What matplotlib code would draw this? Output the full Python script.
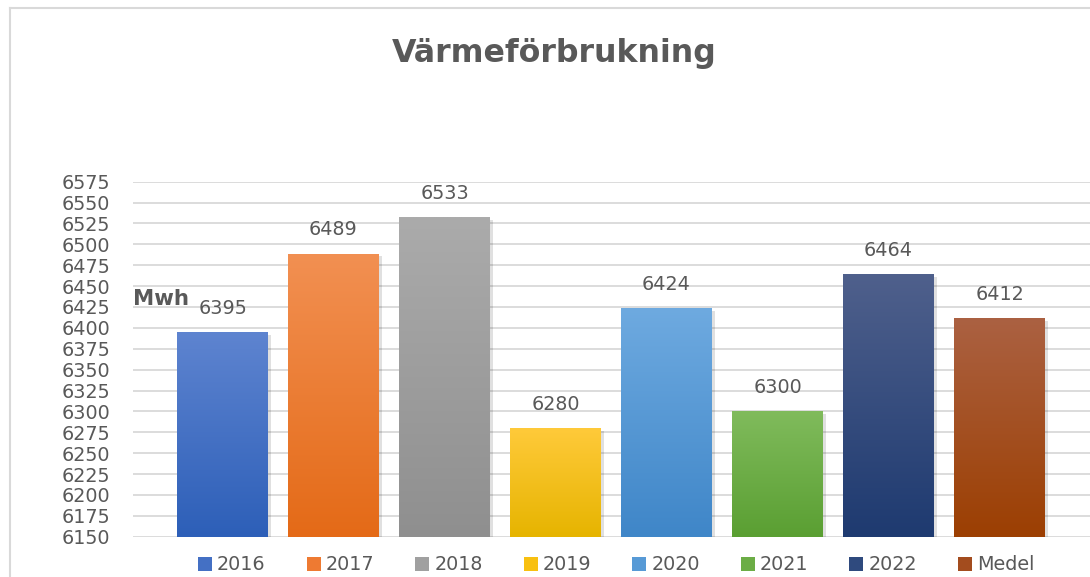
import matplotlib
matplotlib.use("Agg")
import matplotlib.pyplot as plt
import numpy as np
from matplotlib.colors import LinearSegmentedColormap
from matplotlib.patches import Rectangle
from matplotlib.lines import Line2D
import matplotlib.patheffects as pe

# ---- data ----
categories = ["2016", "2017", "2018", "2019", "2020", "2021", "2022", "Medel"]
values = [6395, 6489, 6533, 6280, 6424, 6300, 6464, 6412]
top_colors = ["#5e84d0", "#f29052", "#ababab", "#ffca3a", "#6eaae0", "#80bb5c", "#4f608c", "#ab6142"]
bottom_colors = ["#2d5fb8", "#e46a17", "#8f8f8f", "#e6b400", "#3f86c8", "#5a9f32", "#1e3a70", "#9c3f02"]
legend_colors = ["#4470c4", "#ee7a32", "#a0a0a0", "#f8c010", "#579ad6", "#6cad46", "#2f4a7e", "#a34c1e"]
yticks = list(range(6150, 6576, 25))
title = "Värmeförbrukning"
unit = "Mwh"

TXT = "#595959"
GRID = "#d9d9d9"
FS = 13.8

plt.rcParams['font.family'] = ['DejaVu Sans']

fig = plt.figure(figsize=(10.9, 5.77), dpi=100)
ax = fig.add_axes([133/1090, 1 - 536.7/577, 1 - 133/1090, (536.7 - 181.7)/577])

ymin, ymax = 6150, 6575
width = 91/111
x = np.arange(len(categories))

for i, (v, ct, cb) in enumerate(zip(values, top_colors, bottom_colors)):
    bars = ax.bar(x[i], v - ymin, bottom=ymin, width=width, color=cb, zorder=3,
                  linewidth=0)
    patch = bars[0]
    patch.set_path_effects([pe.SimplePatchShadow(offset=(2.5, -2.0), shadow_rgbFace='#000000', alpha=0.12),
                            pe.Normal()])
    cmap = LinearSegmentedColormap.from_list(f"g{i}", [cb, ct])
    grad = np.linspace(0, 1, 256).reshape(-1, 1)
    im = ax.imshow(grad, cmap=cmap, origin='lower', aspect='auto',
                   extent=[x[i] - width/2, x[i] + width/2, ymin, v], zorder=4,
                   interpolation='bilinear')
    im.set_clip_path(patch)
    ax.annotate(f"{v}", xy=(x[i], v), xytext=(0, 13), textcoords='offset points',
                ha='center', va='baseline', fontsize=FS, color=TXT, zorder=5)

ax.set_xlim((133 - 222.5)/111, (1090 - 222.5)/111)
ax.set_ylim(ymin, ymax)
ax.set_yticks(yticks)
ax.set_yticklabels([str(t) for t in yticks])
ax.tick_params(axis='y', length=0, pad=16.6, labelsize=FS, labelcolor=TXT)
ax.set_xticks([])
ax.yaxis.grid(True, color=GRID, linewidth=1.3, zorder=0)
ax.set_axisbelow(True)
for s in ax.spines.values():
    s.set_visible(False)
ax.patch.set_alpha(0)

# title and unit
fig.text(554/1090, 1 - 62/577, title, ha='center', va='baseline', fontsize=22.8,
         fontweight='bold', color=TXT)
fig.text(133/1090, 1 - 305/577, unit, ha='left', va='baseline', fontsize=15.3,
         fontweight='bold', color=TXT)

# legend
handles = [Rectangle((0, 0), 1, 1, facecolor=c, edgecolor='none') for c in legend_colors]
leg = fig.legend(handles, categories, loc='center', bbox_to_anchor=(616/1090, 1 - 565/577),
                 ncol=len(categories), frameon=False, fontsize=FS, handlelength=0.73,
                 handleheight=0.73, handletextpad=0.26, columnspacing=2.14,
                 borderpad=0, borderaxespad=0)
for t in leg.get_texts():
    t.set_color(TXT)

# chart border (top and left visible)
fig.add_artist(Line2D([10/1090, 10/1090], [0, 1 - 7.5/577], transform=fig.transFigure,
                      color=GRID, linewidth=1.5))
fig.add_artist(Line2D([10/1090, 1], [1 - 7.5/577, 1 - 7.5/577], transform=fig.transFigure,
                      color=GRID, linewidth=1.5))

fig.savefig("out.png", dpi=100)
